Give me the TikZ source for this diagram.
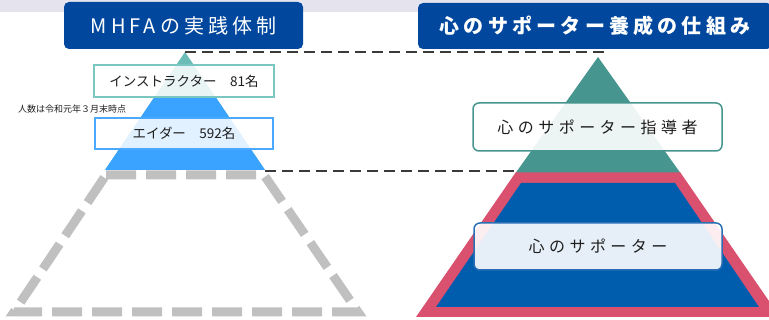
\documentclass[tikz,border=0pt]{standalone}
\usepackage{fontspec}
\setmainfont{Noto Sans CJK JP}
\newfontfamily\ttlfont[LetterSpace=20]{Noto Sans CJK JP}
\newfontfamily\ttlbfont[LetterSpace=21]{Noto Sans CJK JP}
\newfontfamily\lblfont[LetterSpace=28]{Noto Sans CJK JP}
\definecolor{stripc}{HTML}{E5E4EE}
\definecolor{ttlblue}{HTML}{00479D}
\definecolor{lteal}{HTML}{6CBDB8}
\definecolor{lblue}{HTML}{39A3FF}
\definecolor{ibord}{HTML}{7CC6C1}
\definecolor{abord}{HTML}{4AA8FF}
\definecolor{rteal}{HTML}{46958F}
\definecolor{rred}{HTML}{DA506F}
\definecolor{rblue}{HTML}{005DAE}
\definecolor{sbord}{HTML}{2A6FB5}
\definecolor{dashgray}{HTML}{C0C0C0}
\definecolor{conngray}{HTML}{3A3A3A}
\definecolor{txt}{HTML}{1E1E1E}
\begin{document}
\begin{tikzpicture}[x=1pt,y=-1pt,
  ttl/.style={fill=ttlblue, rounded corners=5pt, text=white, inner sep=0pt},
  lbox/.style={fill=white, fill opacity=0.85, text opacity=1, line width=1.5pt, inner sep=0pt, text=txt,
    font=\fontsize{13.5}{15}\selectfont},
  rbox/.style={fill=white, fill opacity=0.9, text opacity=1, line width=1.5pt, inner sep=0pt, text=txt,
    rounded corners=6pt, font=\lblfont\fontsize{16}{18}\selectfont},
  conn/.style={draw=conngray, line width=2pt, dash pattern=on 11pt off 6pt},
  graydash/.style={draw=dashgray, line width=9pt, dash pattern=on 30pt off 10pt, line join=miter}]
\useasboundingbox (0,0) rectangle (769,320);
\fill[stripc] (0,0) rectangle (769,12);

% gray dashed outline below left pyramid
\draw[graydash] (106,175) -- (264,175) -- (358,312) -- (14,312) -- cycle;

% left pyramid
\fill[lteal] (185,52) -- (265,170) -- (105,170) -- cycle;
\fill[lblue] (154.5,97) -- (215.5,97) -- (265,170) -- (105,170) -- cycle;

% right pyramid
\fill[rred] (516,172) -- (680,172) -- (780,317) -- (416,317) -- cycle;
\fill[rblue] (521,183) -- (675,183) -- (759,307) -- (436,307) -- cycle;
\fill[rteal] (598,57) -- (680,172.5) -- (516,172.5) -- cycle;

% connectors
\coordinate (lapex) at (185,52);
\coordinate (rtop) at (608,52);
\coordinate (lbase) at (265,171);
\coordinate (rbase) at (515,171);
\draw[conn] (lapex) -- (rtop);
\draw[conn] (lbase) -- (rbase);

% titles
\node[ttl, minimum width=239pt, minimum height=47pt] (t1) at (183.5,25.5)
  {\ttlfont\fontsize{20}{22}\selectfont MHFAの実践体制};
\node[ttl, minimum width=354pt, minimum height=46pt] (t2) at (595,26)
  {\ttlbfont\bfseries\fontsize{20}{22}\selectfont 心のサポーター養成の仕組み};

% left boxes
\node[lbox, draw=ibord, minimum width=180pt, minimum height=32pt] (ins) at (184,81) {インストラクター　81名};
\node[lbox, draw=abord, minimum width=178pt, minimum height=31pt] (aid) at (184,133.5) {エイダー　592名};
\node[anchor=west, inner sep=0pt, text=txt, font=\fontsize{9}{10}\selectfont] (note) at (18,109) {人数は令和元年３月末時点};

% right boxes
\node[rbox, draw=rteal, minimum width=249pt, minimum height=48pt] (lead) at (597.5,127) {心のサポーター指導者};
\node[rbox, draw=sbord, minimum width=248pt, minimum height=47pt] (sup) at (598,246.5) {心のサポーター};
\end{tikzpicture}
\end{document}
